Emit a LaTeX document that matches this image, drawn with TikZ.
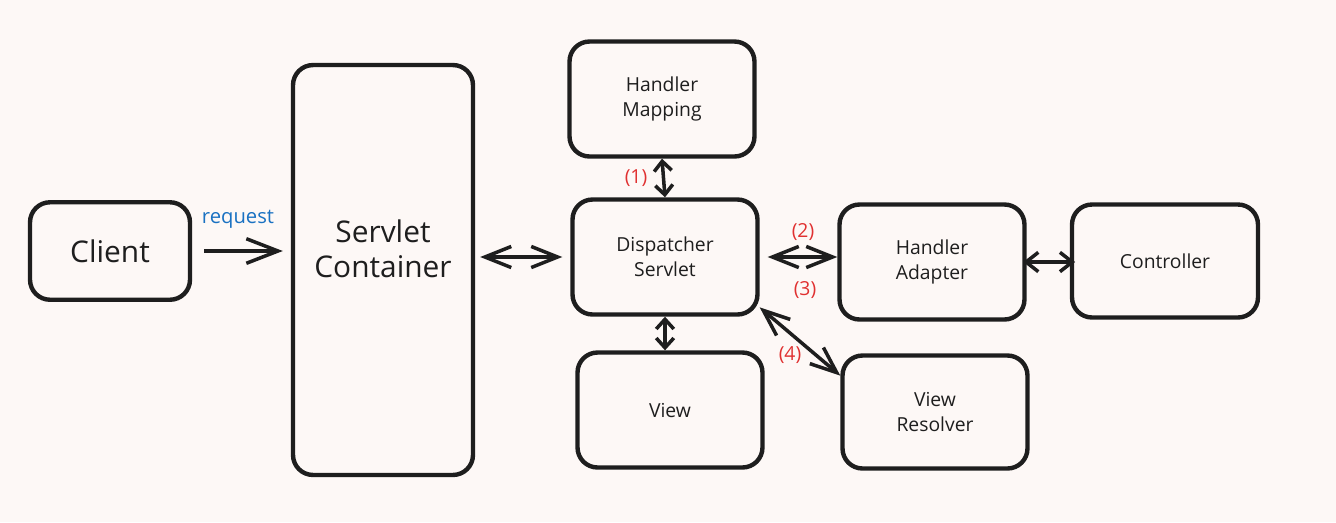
\documentclass[tikz,border=0pt]{standalone}
\usepackage{fontspec}
\setmainfont{Open Sans}
\usepackage{xcolor}
\usepackage{tikz}
\usetikzlibrary{positioning,arrows.meta}
\definecolor{InkBlack}{RGB}{30,30,30}
\definecolor{PaperBg}{RGB}{253,248,246}
\definecolor{ReqBlue}{RGB}{25,113,194}
\definecolor{StepRed}{RGB}{224,49,49}

\begin{document}
\begin{tikzpicture}[x=0.02cm, y=-0.02cm,
                % Style cho khối thành phần
                compbox/.style={
                    draw=InkBlack, line width=2.5pt, rounded corners=0.4cm,
                    fill=PaperBg, align=center, text=InkBlack,
                    minimum width=3.7cm, minimum height=2.3cm,
                    font=\fontsize{11}{14.5}\selectfont
                },
                % Style cho khối lớn (Client, Servlet Container)
                bigbox/.style={
                    compbox, font=\fontsize{17}{20}\selectfont
                },
                % Style cho mũi tên hai chiều
                biflow/.style={
                    draw=InkBlack, line width=2pt,
                    {Straight Barb[length=15pt,width=12pt]}-{Straight Barb[length=15pt,width=12pt]}
                },
                % Style cho mũi tên ngắn
                shortflow/.style={
                    biflow,
                    {Straight Barb[length=5.5pt,width=10pt]}-{Straight Barb[length=5.5pt,width=10pt]}
                },
                % Style cho nhãn bước (màu đỏ)
                steplabel/.style={
                    font=\fontsize{11}{13}\selectfont, text=StepRed
                }
            ]
                % --- 0. Nền ---
                \fill[PaperBg] (0,0) rectangle (1336,522);
                \useasboundingbox (0,0) rectangle (1336,522);

                % --- 1. Vẽ các khối ---
                \node[bigbox, minimum width=3.2cm, minimum height=1.95cm] (client) at (110,251) {Client};
                \node[bigbox, minimum width=3.6cm, minimum height=8.2cm, text depth=0.85cm] (container) at (383,270) {Servlet\\Container};
                \node[compbox] (mapping) at (662,99) {Handler\\Mapping};
                \node[compbox] (dispatcher) at (665,257) {Dispatcher\\Servlet};
                \node[compbox] (view) at (670,410) {View};
                \node[compbox] (adapter) at (932,262) {Handler\\Adapter};
                \node[compbox, minimum width=3.72cm, minimum height=2.26cm] (controller) at (1165,261) {Controller};
                \node[compbox, minimum height=2.26cm] (resolver) at (935,412) {View\\Resolver};

                % --- 2. Vẽ các mũi tên ---
                \draw[draw=InkBlack, line width=2pt, -{Straight Barb[length=18pt,width=14pt]},
                      shorten <=0.24cm, shorten >=0.16cm] (client.east) -- (client.east -| container.west);
                \node[font=\fontsize{11.5}{13}\selectfont, text=ReqBlue] (reqtext) at (238,219) {request};

                \draw[biflow, shorten <=0.1cm, shorten >=0.16cm] (dispatcher.west -| container.east) -- (dispatcher.west);
                \draw[shortflow] (mapping.south) -- (dispatcher.north);
                \draw[biflow, shorten <=0.16cm] (dispatcher.east) -- (dispatcher.east -| adapter.west);
                \draw[shortflow, {Straight Barb[length=7pt,width=11pt]}-{Straight Barb[length=7pt,width=11pt]},
                      shorten <=-2pt, shorten >=-3pt] (adapter.east) -- (adapter.east -| controller.west);
                \draw[shortflow] (dispatcher.south) -- (dispatcher.south |- view.north);
                \draw[biflow] (dispatcher.-28) -- (resolver.159);

                % --- 3. Nhãn các bước ---
                \node[steplabel] (s1) at (636,178) {(1)};
                \node[steplabel] (s2) at (803,232) {(2)};
                \node[steplabel] (s3) at (805,290) {(3)};
                \node[steplabel] (s4) at (790,355) {(4)};

            \end{tikzpicture}
\end{document}
